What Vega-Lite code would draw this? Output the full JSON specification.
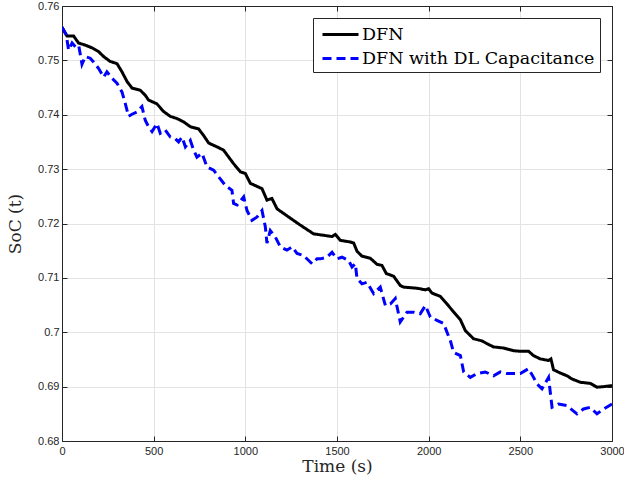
{
  "$schema": "https://vega.github.io/schema/vega-lite/v6.json",
  "autosize": "none",
  "width": 550,
  "height": 435,
  "padding": {"left": 62, "top": 6, "right": 12, "bottom": 44},
  "background": "white",
  "config": {
    "view": {"stroke": null},
    "axis": {
      "labelFont": "Liberation Sans",
      "labelFontSize": 11,
      "labelColor": "#262626",
      "labelFlush": false,
      "labelOverlap": false,
      "titleFont": "DejaVu Serif",
      "titleFontSize": 17,
      "titleFontWeight": "normal",
      "titleColor": "#262626",
      "domainColor": "#262626",
      "tickColor": "#262626",
      "gridColor": "#e3e3e3",
      "gridWidth": 1
    },
    "legend": {
      "title": null,
      "orient": "none",
      "legendX": 251,
      "legendY": 12,
      "direction": "vertical",
      "symbolType": "M-1.8,0H1.8",
      "symbolSize": 400,
      "symbolStrokeWidth": 3,
      "symbolFillColor": "transparent",
      "symbolOffset": 11,
      "labelFont": "DejaVu Serif",
      "labelFontSize": 17.5,
      "labelColor": "#000000",
      "labelOffset": 10,
      "rowPadding": 4,
      "padding": 5,
      "strokeColor": "#262626",
      "fillColor": "white",
      "labelLimit": 400
    }
  },
  "datasets": {
    "soc": [
      {"t": 0, "soc": 0.7561, "series": "DFN"},
      {"t": 27, "soc": 0.7545, "series": "DFN"},
      {"t": 63, "soc": 0.7545, "series": "DFN"},
      {"t": 90, "soc": 0.7532, "series": "DFN"},
      {"t": 127, "soc": 0.7528, "series": "DFN"},
      {"t": 164, "soc": 0.7523, "series": "DFN"},
      {"t": 200, "soc": 0.7516, "series": "DFN"},
      {"t": 227, "soc": 0.7507, "series": "DFN"},
      {"t": 263, "soc": 0.7498, "series": "DFN"},
      {"t": 300, "soc": 0.7494, "series": "DFN"},
      {"t": 327, "soc": 0.7479, "series": "DFN"},
      {"t": 355, "soc": 0.7461, "series": "DFN"},
      {"t": 382, "soc": 0.7449, "series": "DFN"},
      {"t": 427, "soc": 0.7445, "series": "DFN"},
      {"t": 454, "soc": 0.7436, "series": "DFN"},
      {"t": 472, "soc": 0.7427, "series": "DFN"},
      {"t": 518, "soc": 0.742, "series": "DFN"},
      {"t": 554, "soc": 0.7406, "series": "DFN"},
      {"t": 591, "soc": 0.7397, "series": "DFN"},
      {"t": 627, "soc": 0.7393, "series": "DFN"},
      {"t": 663, "soc": 0.7387, "series": "DFN"},
      {"t": 700, "soc": 0.7378, "series": "DFN"},
      {"t": 745, "soc": 0.7374, "series": "DFN"},
      {"t": 772, "soc": 0.7362, "series": "DFN"},
      {"t": 800, "soc": 0.7348, "series": "DFN"},
      {"t": 845, "soc": 0.7341, "series": "DFN"},
      {"t": 881, "soc": 0.7335, "series": "DFN"},
      {"t": 936, "soc": 0.731, "series": "DFN"},
      {"t": 973, "soc": 0.7295, "series": "DFN"},
      {"t": 1000, "soc": 0.7292, "series": "DFN"},
      {"t": 1027, "soc": 0.7274, "series": "DFN"},
      {"t": 1091, "soc": 0.7264, "series": "DFN"},
      {"t": 1118, "soc": 0.7243, "series": "DFN"},
      {"t": 1145, "soc": 0.7246, "series": "DFN"},
      {"t": 1173, "soc": 0.7227, "series": "DFN"},
      {"t": 1236, "soc": 0.7212, "series": "DFN"},
      {"t": 1300, "soc": 0.7197, "series": "DFN"},
      {"t": 1372, "soc": 0.7181, "series": "DFN"},
      {"t": 1473, "soc": 0.7176, "series": "DFN"},
      {"t": 1491, "soc": 0.718, "series": "DFN"},
      {"t": 1518, "soc": 0.7169, "series": "DFN"},
      {"t": 1573, "soc": 0.7166, "series": "DFN"},
      {"t": 1591, "soc": 0.7164, "series": "DFN"},
      {"t": 1609, "soc": 0.7149, "series": "DFN"},
      {"t": 1636, "soc": 0.714, "series": "DFN"},
      {"t": 1682, "soc": 0.7136, "series": "DFN"},
      {"t": 1718, "soc": 0.7125, "series": "DFN"},
      {"t": 1745, "soc": 0.7123, "series": "DFN"},
      {"t": 1769, "soc": 0.7108, "series": "DFN"},
      {"t": 1809, "soc": 0.7103, "series": "DFN"},
      {"t": 1845, "soc": 0.7086, "series": "DFN"},
      {"t": 1863, "soc": 0.7083, "series": "DFN"},
      {"t": 1936, "soc": 0.7081, "series": "DFN"},
      {"t": 1982, "soc": 0.7078, "series": "DFN"},
      {"t": 2000, "soc": 0.708, "series": "DFN"},
      {"t": 2018, "soc": 0.7072, "series": "DFN"},
      {"t": 2063, "soc": 0.7066, "series": "DFN"},
      {"t": 2100, "soc": 0.7052, "series": "DFN"},
      {"t": 2127, "soc": 0.7041, "series": "DFN"},
      {"t": 2173, "soc": 0.7023, "series": "DFN"},
      {"t": 2200, "soc": 0.7003, "series": "DFN"},
      {"t": 2245, "soc": 0.6988, "series": "DFN"},
      {"t": 2291, "soc": 0.6984, "series": "DFN"},
      {"t": 2318, "soc": 0.6979, "series": "DFN"},
      {"t": 2354, "soc": 0.6973, "series": "DFN"},
      {"t": 2409, "soc": 0.6971, "series": "DFN"},
      {"t": 2463, "soc": 0.6966, "series": "DFN"},
      {"t": 2500, "soc": 0.6965, "series": "DFN"},
      {"t": 2545, "soc": 0.6965, "series": "DFN"},
      {"t": 2572, "soc": 0.6957, "series": "DFN"},
      {"t": 2609, "soc": 0.6951, "series": "DFN"},
      {"t": 2654, "soc": 0.6948, "series": "DFN"},
      {"t": 2667, "soc": 0.6951, "series": "DFN"},
      {"t": 2681, "soc": 0.6931, "series": "DFN"},
      {"t": 2718, "soc": 0.6925, "series": "DFN"},
      {"t": 2754, "soc": 0.692, "series": "DFN"},
      {"t": 2782, "soc": 0.6914, "series": "DFN"},
      {"t": 2827, "soc": 0.6908, "series": "DFN"},
      {"t": 2881, "soc": 0.6906, "series": "DFN"},
      {"t": 2918, "soc": 0.6899, "series": "DFN"},
      {"t": 2955, "soc": 0.69, "series": "DFN"},
      {"t": 3000, "soc": 0.6902, "series": "DFN"},
      {"t": 0, "soc": 0.7561, "series": "DFN with DL Capacitance"},
      {"t": 23, "soc": 0.7547, "series": "DFN with DL Capacitance"},
      {"t": 36, "soc": 0.7519, "series": "DFN with DL Capacitance"},
      {"t": 55, "soc": 0.7532, "series": "DFN with DL Capacitance"},
      {"t": 73, "soc": 0.7525, "series": "DFN with DL Capacitance"},
      {"t": 91, "soc": 0.7528, "series": "DFN with DL Capacitance"},
      {"t": 109, "soc": 0.7493, "series": "DFN with DL Capacitance"},
      {"t": 127, "soc": 0.7507, "series": "DFN with DL Capacitance"},
      {"t": 154, "soc": 0.7504, "series": "DFN with DL Capacitance"},
      {"t": 172, "soc": 0.7497, "series": "DFN with DL Capacitance"},
      {"t": 200, "soc": 0.7485, "series": "DFN with DL Capacitance"},
      {"t": 227, "soc": 0.7469, "series": "DFN with DL Capacitance"},
      {"t": 245, "soc": 0.7479, "series": "DFN with DL Capacitance"},
      {"t": 273, "soc": 0.7467, "series": "DFN with DL Capacitance"},
      {"t": 300, "soc": 0.7458, "series": "DFN with DL Capacitance"},
      {"t": 327, "soc": 0.7442, "series": "DFN with DL Capacitance"},
      {"t": 345, "soc": 0.7421, "series": "DFN with DL Capacitance"},
      {"t": 363, "soc": 0.7397, "series": "DFN with DL Capacitance"},
      {"t": 382, "soc": 0.7401, "series": "DFN with DL Capacitance"},
      {"t": 409, "soc": 0.7405, "series": "DFN with DL Capacitance"},
      {"t": 436, "soc": 0.7415, "series": "DFN with DL Capacitance"},
      {"t": 454, "soc": 0.739, "series": "DFN with DL Capacitance"},
      {"t": 472, "soc": 0.7378, "series": "DFN with DL Capacitance"},
      {"t": 491, "soc": 0.7369, "series": "DFN with DL Capacitance"},
      {"t": 518, "soc": 0.7384, "series": "DFN with DL Capacitance"},
      {"t": 536, "soc": 0.7366, "series": "DFN with DL Capacitance"},
      {"t": 563, "soc": 0.7372, "series": "DFN with DL Capacitance"},
      {"t": 591, "soc": 0.7359, "series": "DFN with DL Capacitance"},
      {"t": 618, "soc": 0.7356, "series": "DFN with DL Capacitance"},
      {"t": 636, "soc": 0.735, "series": "DFN with DL Capacitance"},
      {"t": 655, "soc": 0.7359, "series": "DFN with DL Capacitance"},
      {"t": 673, "soc": 0.7341, "series": "DFN with DL Capacitance"},
      {"t": 700, "soc": 0.7353, "series": "DFN with DL Capacitance"},
      {"t": 718, "soc": 0.7335, "series": "DFN with DL Capacitance"},
      {"t": 736, "soc": 0.7322, "series": "DFN with DL Capacitance"},
      {"t": 764, "soc": 0.7329, "series": "DFN with DL Capacitance"},
      {"t": 791, "soc": 0.7304, "series": "DFN with DL Capacitance"},
      {"t": 827, "soc": 0.7298, "series": "DFN with DL Capacitance"},
      {"t": 854, "soc": 0.7286, "series": "DFN with DL Capacitance"},
      {"t": 891, "soc": 0.727, "series": "DFN with DL Capacitance"},
      {"t": 927, "soc": 0.7261, "series": "DFN with DL Capacitance"},
      {"t": 936, "soc": 0.7237, "series": "DFN with DL Capacitance"},
      {"t": 955, "soc": 0.7234, "series": "DFN with DL Capacitance"},
      {"t": 991, "soc": 0.7249, "series": "DFN with DL Capacitance"},
      {"t": 1009, "soc": 0.7224, "series": "DFN with DL Capacitance"},
      {"t": 1036, "soc": 0.7206, "series": "DFN with DL Capacitance"},
      {"t": 1064, "soc": 0.7212, "series": "DFN with DL Capacitance"},
      {"t": 1091, "soc": 0.7224, "series": "DFN with DL Capacitance"},
      {"t": 1109, "soc": 0.7194, "series": "DFN with DL Capacitance"},
      {"t": 1118, "soc": 0.7164, "series": "DFN with DL Capacitance"},
      {"t": 1136, "soc": 0.7187, "series": "DFN with DL Capacitance"},
      {"t": 1164, "soc": 0.7175, "series": "DFN with DL Capacitance"},
      {"t": 1191, "soc": 0.7157, "series": "DFN with DL Capacitance"},
      {"t": 1227, "soc": 0.7151, "series": "DFN with DL Capacitance"},
      {"t": 1255, "soc": 0.7157, "series": "DFN with DL Capacitance"},
      {"t": 1282, "soc": 0.7145, "series": "DFN with DL Capacitance"},
      {"t": 1318, "soc": 0.7141, "series": "DFN with DL Capacitance"},
      {"t": 1364, "soc": 0.7126, "series": "DFN with DL Capacitance"},
      {"t": 1391, "soc": 0.7135, "series": "DFN with DL Capacitance"},
      {"t": 1409, "soc": 0.7135, "series": "DFN with DL Capacitance"},
      {"t": 1445, "soc": 0.7138, "series": "DFN with DL Capacitance"},
      {"t": 1473, "soc": 0.7147, "series": "DFN with DL Capacitance"},
      {"t": 1500, "soc": 0.7135, "series": "DFN with DL Capacitance"},
      {"t": 1527, "soc": 0.7138, "series": "DFN with DL Capacitance"},
      {"t": 1563, "soc": 0.7132, "series": "DFN with DL Capacitance"},
      {"t": 1582, "soc": 0.712, "series": "DFN with DL Capacitance"},
      {"t": 1600, "soc": 0.7126, "series": "DFN with DL Capacitance"},
      {"t": 1609, "soc": 0.7099, "series": "DFN with DL Capacitance"},
      {"t": 1636, "soc": 0.7089, "series": "DFN with DL Capacitance"},
      {"t": 1664, "soc": 0.7092, "series": "DFN with DL Capacitance"},
      {"t": 1700, "soc": 0.7071, "series": "DFN with DL Capacitance"},
      {"t": 1736, "soc": 0.7083, "series": "DFN with DL Capacitance"},
      {"t": 1764, "soc": 0.7049, "series": "DFN with DL Capacitance"},
      {"t": 1791, "soc": 0.7052, "series": "DFN with DL Capacitance"},
      {"t": 1818, "soc": 0.7062, "series": "DFN with DL Capacitance"},
      {"t": 1845, "soc": 0.7019, "series": "DFN with DL Capacitance"},
      {"t": 1882, "soc": 0.7037, "series": "DFN with DL Capacitance"},
      {"t": 1918, "soc": 0.7037, "series": "DFN with DL Capacitance"},
      {"t": 1954, "soc": 0.7034, "series": "DFN with DL Capacitance"},
      {"t": 1982, "soc": 0.7049, "series": "DFN with DL Capacitance"},
      {"t": 2009, "soc": 0.7028, "series": "DFN with DL Capacitance"},
      {"t": 2045, "soc": 0.7022, "series": "DFN with DL Capacitance"},
      {"t": 2082, "soc": 0.7016, "series": "DFN with DL Capacitance"},
      {"t": 2100, "soc": 0.7, "series": "DFN with DL Capacitance"},
      {"t": 2118, "soc": 0.6985, "series": "DFN with DL Capacitance"},
      {"t": 2136, "soc": 0.6963, "series": "DFN with DL Capacitance"},
      {"t": 2173, "soc": 0.6957, "series": "DFN with DL Capacitance"},
      {"t": 2191, "soc": 0.6927, "series": "DFN with DL Capacitance"},
      {"t": 2227, "soc": 0.6917, "series": "DFN with DL Capacitance"},
      {"t": 2264, "soc": 0.6924, "series": "DFN with DL Capacitance"},
      {"t": 2309, "soc": 0.6927, "series": "DFN with DL Capacitance"},
      {"t": 2354, "soc": 0.692, "series": "DFN with DL Capacitance"},
      {"t": 2391, "soc": 0.6927, "series": "DFN with DL Capacitance"},
      {"t": 2427, "soc": 0.6924, "series": "DFN with DL Capacitance"},
      {"t": 2463, "soc": 0.6924, "series": "DFN with DL Capacitance"},
      {"t": 2500, "soc": 0.6924, "series": "DFN with DL Capacitance"},
      {"t": 2545, "soc": 0.6933, "series": "DFN with DL Capacitance"},
      {"t": 2572, "soc": 0.6917, "series": "DFN with DL Capacitance"},
      {"t": 2591, "soc": 0.6905, "series": "DFN with DL Capacitance"},
      {"t": 2618, "soc": 0.6896, "series": "DFN with DL Capacitance"},
      {"t": 2654, "soc": 0.6917, "series": "DFN with DL Capacitance"},
      {"t": 2673, "soc": 0.6862, "series": "DFN with DL Capacitance"},
      {"t": 2709, "soc": 0.6868, "series": "DFN with DL Capacitance"},
      {"t": 2754, "soc": 0.6865, "series": "DFN with DL Capacitance"},
      {"t": 2809, "soc": 0.685, "series": "DFN with DL Capacitance"},
      {"t": 2845, "soc": 0.6859, "series": "DFN with DL Capacitance"},
      {"t": 2881, "soc": 0.6862, "series": "DFN with DL Capacitance"},
      {"t": 2918, "soc": 0.685, "series": "DFN with DL Capacitance"},
      {"t": 2955, "soc": 0.6859, "series": "DFN with DL Capacitance"},
      {"t": 3000, "soc": 0.6868, "series": "DFN with DL Capacitance"}
    ]
  },
  "data": {"name": "soc"},
  "resolve": {"axis": {"x": "independent", "y": "independent"}},
  "layer": [
    {
      "mark": {"type": "line", "strokeWidth": 3, "clip": true},
      "encoding": {
        "x": {
          "field": "t", "type": "quantitative",
          "scale": {"domain": [0, 3000], "nice": false, "zero": false},
          "axis": {
            "title": "Time (s)",
            "values": [0, 500, 1000, 1500, 2000, 2500, 3000],
            "format": "d",
            "tickSize": -5,
            "labelPadding": 9,
            "titlePadding": 2,
            "grid": true
          }
        },
        "y": {
          "field": "soc", "type": "quantitative",
          "scale": {"domain": [0.68, 0.76], "nice": false, "zero": false},
          "axis": {
            "title": "SoC (t)",
            "values": [0.68, 0.69, 0.7, 0.71, 0.72, 0.73, 0.74, 0.75, 0.76],
            "format": "~g",
            "tickSize": -5,
            "labelPadding": 8,
            "titlePadding": 13,
            "grid": true
          }
        },
        "color": {
          "field": "series", "type": "nominal",
          "scale": {"domain": ["DFN", "DFN with DL Capacitance"], "range": ["#000000", "#0000ff"]}
        },
        "strokeDash": {
          "field": "series", "type": "nominal",
          "scale": {"domain": ["DFN", "DFN with DL Capacitance"], "range": [[1, 0], [9, 5]]}
        }
      }
    },
    {
      "mark": {"type": "line", "strokeOpacity": 0},
      "encoding": {
        "x": {
          "field": "t", "type": "quantitative",
          "axis": {"orient": "top", "title": null, "labels": false, "grid": false,
                   "values": [0, 500, 1000, 1500, 2000, 2500, 3000], "tickSize": -5}
        },
        "y": {
          "field": "soc", "type": "quantitative",
          "axis": {"orient": "right", "title": null, "labels": false, "grid": false,
                   "values": [0.68, 0.69, 0.7, 0.71, 0.72, 0.73, 0.74, 0.75, 0.76], "tickSize": -5}
        },
        "detail": {"field": "series"}
      }
    }
  ]
}
